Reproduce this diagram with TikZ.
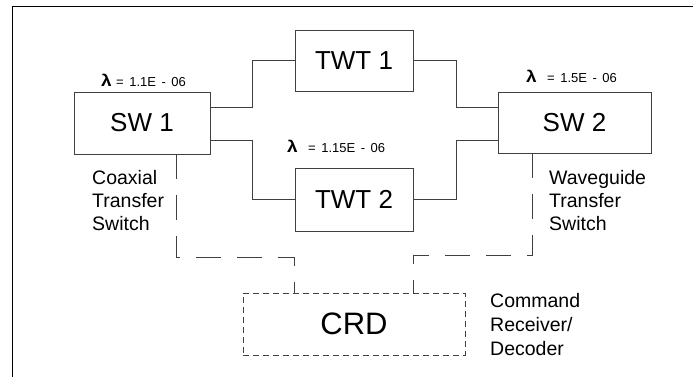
\documentclass[tikz,border=0pt]{standalone}
\usepackage{graphicx}
\usepackage{fontspec}
\setmainfont{Liberation Sans}
\usetikzlibrary{calc}
\newcommand\ratesp{\spaceskip=5.5pt\relax}
\newcommand\widelam{\scalebox{1.15}[1]{λ}}
\tikzset{
  blk/.style={draw=black!75, line width=0.8pt, minimum width=#1, inner sep=0pt, font=\fontsize{26}{30}\selectfont},
  wire/.style={draw=black!75, line width=0.8pt},
  ctl/.style={draw=black!75, line width=0.8pt, dash pattern=on 25pt off 16pt},
  lbl/.style={anchor=base west, inner sep=0pt, font=\fontsize{19.5}{23}\selectfont},
  lam/.style={anchor=base west, inner sep=0pt, font=\fontsize{16.5}{20}\selectfont\bfseries},
  rate/.style={anchor=base west, inner sep=0pt, font=\fontsize{13}{15}\selectfont\ratesp},
}
\begin{document}
\begin{tikzpicture}[x=1pt,y=-1pt]
\useasboundingbox (0,0) rectangle (696,377);
% frame (top and left edges visible)
\coordinate (fl) at (12,377);
\coordinate (ftl) at (12,7);
\coordinate (ftr) at (693,7);
\draw[black, line width=1pt] (fl) -- (ftl) -- (ftr);

\node[blk=136pt, minimum height=62pt] (sw1) at (142,123) {SW 1};
\node[blk=118pt, minimum height=61pt] (twt1) at (354,60.5) {TWT 1};
\node[blk=118pt, minimum height=63pt] (twt2) at (354,199.5) {TWT 2};
\node[blk=153pt, minimum height=61pt] (sw2) at (574.5,122.5) {SW 2};
\node[blk=222pt, minimum height=62pt, dash pattern=on 6pt off 4pt, font=\fontsize{31}{36}\selectfont] (crd) at (354,324) {CRD};

% RF paths
\draw[wire] ($(sw1.east)+(0,-16)$) -- ++(42,0) |- (twt1.west);
\draw[wire] ($(sw1.east)+(0,17)$) -- ++(42,0) |- (twt2.west);
\draw[wire] (twt1.east) -- ++(43,0) |- ($(sw2.west)+(0,-15.5)$);
\draw[wire] (twt2.east) -- ++(43,0) |- ($(sw2.west)+(0,17.5)$);

% control lines
\draw[ctl] ($(sw1.south)+(34,0)$) -- ++(0,103) -| ($(crd.north)+(-60,0)$);
\draw[ctl] ($(sw2.south)+(-42.5,0)$) -- ++(0,102) -| ($(crd.north)+(59,0)$);

% failure rates
\node[lam] (l1) at (101,87) {\widelam};
\node[rate] (r1) at (116,87) {= 1.1E - 06};
\node[lam] (l2) at (287,153) {\widelam};
\node[rate] (r2) at (308,153) {= 1.15E - 06};
\node[lam] (l3) at (526,83) {\widelam};
\node[rate] (r3) at (547,83) {= 1.5E - 06};

% descriptions
\node[lbl] (c1) at (92,184) {Coaxial};
\node[lbl] (c2) at (92,207) {Transfer};
\node[lbl] (c3) at (92,230) {Switch};
\node[lbl] (w1) at (549,184) {Waveguide};
\node[lbl] (w2) at (549,207) {Transfer};
\node[lbl] (w3) at (549,230) {Switch};
\node[lbl] (d1) at (490,307) {Command};
\node[lbl] (d2) at (490,331) {Receiver/};
\node[lbl] (d3) at (490,355) {Decoder};
\end{tikzpicture}
\end{document}
